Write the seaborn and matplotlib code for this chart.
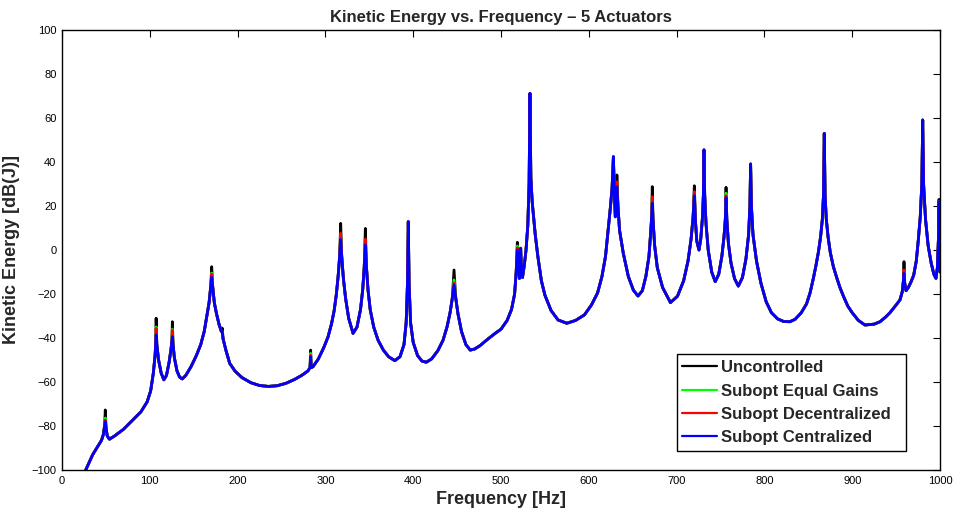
import numpy as np
import pandas as pd
import matplotlib
matplotlib.use("Agg")
import matplotlib.pyplot as plt
import seaborn as sns

# ---------------- data ----------------
freq_hz = [
    22, 27, 35, 42, 45, 47, 48.5, 49.3, 50.2, 51.5, 54, 60, 70, 80, 90, 97, 101, 104, 106, 106.8,
    107.2, 108, 110, 113, 116, 119, 122, 124.2, 125.2, 125.7, 126.5, 128, 131, 134, 137, 141, 147,
    153, 158, 162, 165, 167.5, 169.3, 170.5, 171.7, 173.5, 176, 179, 181.5, 182.5, 183.5, 187, 191,
    197, 205, 215, 225, 235, 245, 255, 265, 273, 280, 282.5, 283.2, 283.9, 286, 292, 298, 303, 307,
    310, 312.5, 314.5, 316.2, 317.4, 318.6, 320.5, 323, 326.5, 331.5, 336, 340, 342.5, 344.2, 345.5,
    346.8, 348.5, 351, 355, 360, 366, 372, 379, 385, 389.5, 392, 393.5, 394.4, 395.3, 397, 400, 405,
    410, 415, 421, 428, 434, 438.5, 442, 444.5, 446.5, 448.5, 451, 455, 460, 465, 470, 476, 485, 493,
    500, 507, 512, 515.5, 517.3, 518.6, 519.8, 521, 521.8, 522.4, 523, 524.5, 526.5, 528.5, 530.5,
    532, 533, 534, 535.5, 537, 539, 542, 546, 550, 557, 565, 575, 585, 595, 603, 610, 615, 619, 622, 624.5,
    626.5, 628, 629.2, 630.2, 631, 632, 633.2, 635, 639.3, 645, 650.7, 656, 661, 665, 668.5, 670.5,
    671.6, 672.3, 673.1, 675, 678, 684, 693, 701, 708, 713, 716.5, 718.8, 720.2, 721.5, 723, 725.5,
    727.5, 729.5, 730.5, 731.2, 732, 733.5, 736, 740, 744, 748, 751.5, 754, 755.5, 756.3, 757.2, 759,
    762, 766, 770.3, 775, 779, 782, 783.5, 784.3, 785.2, 787, 791, 796, 802, 808, 815, 822, 829, 835,
    842, 848, 852, 855.7, 858.5, 861.5, 864, 866, 867.3, 868.2, 869.1, 870.5, 872.5, 875, 878.5, 882.3,
    886, 890, 895, 900, 907, 914.6, 925, 931.7,
    938, 943, 950, 954.4, 957, 958.3, 959, 959.8, 961.3, 964, 967, 970, 973, 975.3, 977.5, 979.3, 980.3,
    981.3, 983.5, 986.5, 990, 993, 995.4, 997, 998.2, 998.9, 999.5, 1000,
]
centralized_db = [
    -106, -100, -93, -88.5, -86.5, -84, -80, -78, -81, -84.5, -86, -84.5, -81.5, -77.5, -73.5, -69, -64, -56, -48, -42,
    -38.6, -43, -50, -56, -59, -57, -51, -45, -41, -39.4, -43, -49, -55, -57.8, -58.6, -57, -53,
    -48, -43, -37, -30, -24, -17, -12.3, -17, -24, -29, -34, -37, -37.2, -40.5, -46, -51.5,
    -55, -58, -60.3, -61.6, -62, -61.7, -60.6, -58.8, -57, -55, -53.5, -48.5, -53.5, -53, -49.5, -44.5, -39.5, -33.5,
    -27.5, -20, -12, -3, 4.8, -3, -13, -22, -31, -37.9, -35, -27, -18, -8, 2.3,
    -8, -18, -27, -35, -41, -45.5, -48.5, -50.3, -48.5, -43, -33, -15, 12.9, -15, -33, -42, -48,
    -50.5, -51, -49.5, -45.8, -41, -35, -28.5, -22, -15.9, -22, -29, -37, -43, -45.5, -45, -43.5, -40.5, -38,
    -36, -32, -27, -20, -10, 0, -8, -12.9, -6, 0.8, -6, -12.5, -7, 0, 11,
    30, 71.2, 33, 22, 15.5, 7, -3, -14, -20.5, -27.5, -31.8, -33.3, -32, -29.5, -25, -19.5, -12, -3, 9.1, 19,
    28, 42.4, 25, 15.1, 22, 28.8, 20, 9, -1.5, -12, -18.2, -20.9, -18.5, -12, -3, 8,
    15, 21.2, 14, 2, -8, -17, -23.9, -21, -14, -5, 5, 15, 24.7, 13, 4, 0,
    5, 15, 25, 45.5, 25, 12, 0, -10, -14.4, -11, -3, 6, 14, 23.8, 14, 3,
    -6, -13, -16.4, -12.5, -4, 7, 20, 39.1, 20, 7, -5, -15, -23.5, -28.5, -31.3, -32.5, -32.6, -31.5,
    -28.5, -24.5, -19.5, -13, -7.5, -1, 6, 14, 25, 53, 25, 14, 6, -1, -7.5, -12.5,
    -17, -21, -25.5, -28.5, -32, -34.1, -33.7, -32.6,
    -30.5, -28.5, -25, -22.7, -19, -14, -10.6, -15, -18.5, -17, -14.5, -11.5, -5, 4.5, 15, 30, 59.1,
    30, 14, 2, -6, -11, -12.9, -8, 5, 22, 5, -10,
]

# resonance tips where the other configurations differ from the centralized curve
peak_hz = [49.3, 107.2, 125.7, 170.5, 182.5, 283.2, 317.4, 345.5, 446.5, 518.6,
           632.0, 672.3, 720.2, 756.3, 959.0, 998.9]
uncontrolled_tip_db = [-72.7, -31.0, -32.6, -7.6, -35.5, -45.5, 12.1, 9.8, -9.1, 3.5,
                       34.1, 28.8, 29.2, 28.5, -5.3, 23.0]
equal_gains_tip_db = [-76.4, -35.0, -36.0, -10.5, -37.2, -47.0, 7.0, 4.5, -13.6, 1.8,
                      30.5, 23.8, 26.0, 25.8, -9.4, 22.0]
decentralized_tip_db = [-77.3, -35.6, -36.4, -11.0, -37.2, -47.8, 7.6, 5.0, -15.0, 1.0,
                        31.0, 24.2, 26.5, 24.7, -9.1, 22.0]

series_names = ["Uncontrolled", "Subopt Equal Gains", "Subopt Decentralized", "Subopt Centralized"]
series_colors = ["#000000", "#00ff00", "#ff0000", "#0000ff"]

# ---------------- build long-form table ----------------
freq_arr = np.array(freq_hz, dtype=float)
base = np.array(centralized_db, dtype=float)
assert len(freq_arr) == len(base), (len(freq_arr), len(base))


def with_tips(tips):
    vals = base.copy()
    for f, v in zip(peak_hz, tips):
        idx = int(np.argmin(np.abs(freq_arr - f)))
        vals[idx] = v
    return vals


series_vals = [with_tips(uncontrolled_tip_db), with_tips(equal_gains_tip_db),
               with_tips(decentralized_tip_db), base]

frames = []
for name, vals in zip(series_names, series_vals):
    frames.append(pd.DataFrame({"Frequency": freq_arr, "KE": vals, "Series": name}))
df = pd.concat(frames, ignore_index=True)

# ---------------- plot ----------------
sns.set_style("white")
plt.rcParams["font.family"] = ["Liberation Sans", "DejaVu Sans"]
plt.rcParams["xtick.direction"] = "in"
plt.rcParams["ytick.direction"] = "in"

fig = plt.figure(figsize=(9.54, 5.13), dpi=100)
ax = fig.add_axes([62 / 954, 43 / 513, 878 / 954, 440 / 513])

sns.lineplot(data=df, x="Frequency", y="KE", hue="Series", hue_order=series_names,
             palette=dict(zip(series_names, series_colors)), estimator=None,
             sort=False, linewidth=2.0, ax=ax)

ax.set_xlim(0, 1000)
ax.set_ylim(-100, 100)
ax.set_xticks(np.arange(0, 1001, 100))
ax.set_yticks(np.arange(-100, 101, 20))
ax.tick_params(axis="both", which="both", direction="in", length=5, width=0.8,
               top=True, right=True, labelsize=8, colors="black", pad=4)
for sp in ax.spines.values():
    sp.set_visible(True)
    sp.set_color("black")
    sp.set_linewidth(1.0)

ax.set_title("Kinetic Energy vs. Frequency – 5 Actuators", fontsize=12, fontweight="bold", pad=6)
ax.set_xlabel("Frequency [Hz]", fontsize=13, fontweight="bold", labelpad=4)
ax.set_ylabel("Kinetic Energy [dB(J)]", fontsize=13, fontweight="bold", labelpad=8)

leg = ax.legend(loc="lower left", bbox_to_anchor=(0.700, 0.043, 0.261, 0.225), mode="expand",
                frameon=True, fancybox=False, framealpha=1, edgecolor="black",
                prop={"weight": "bold", "size": 12}, handlelength=2.1, handletextpad=0.2,
                labelspacing=0.5, borderpad=0.35, borderaxespad=0)
leg.get_frame().set_linewidth(1.0)
for line in leg.get_lines():
    line.set_linewidth(1.6)

fig.savefig("out.png", dpi=100)
